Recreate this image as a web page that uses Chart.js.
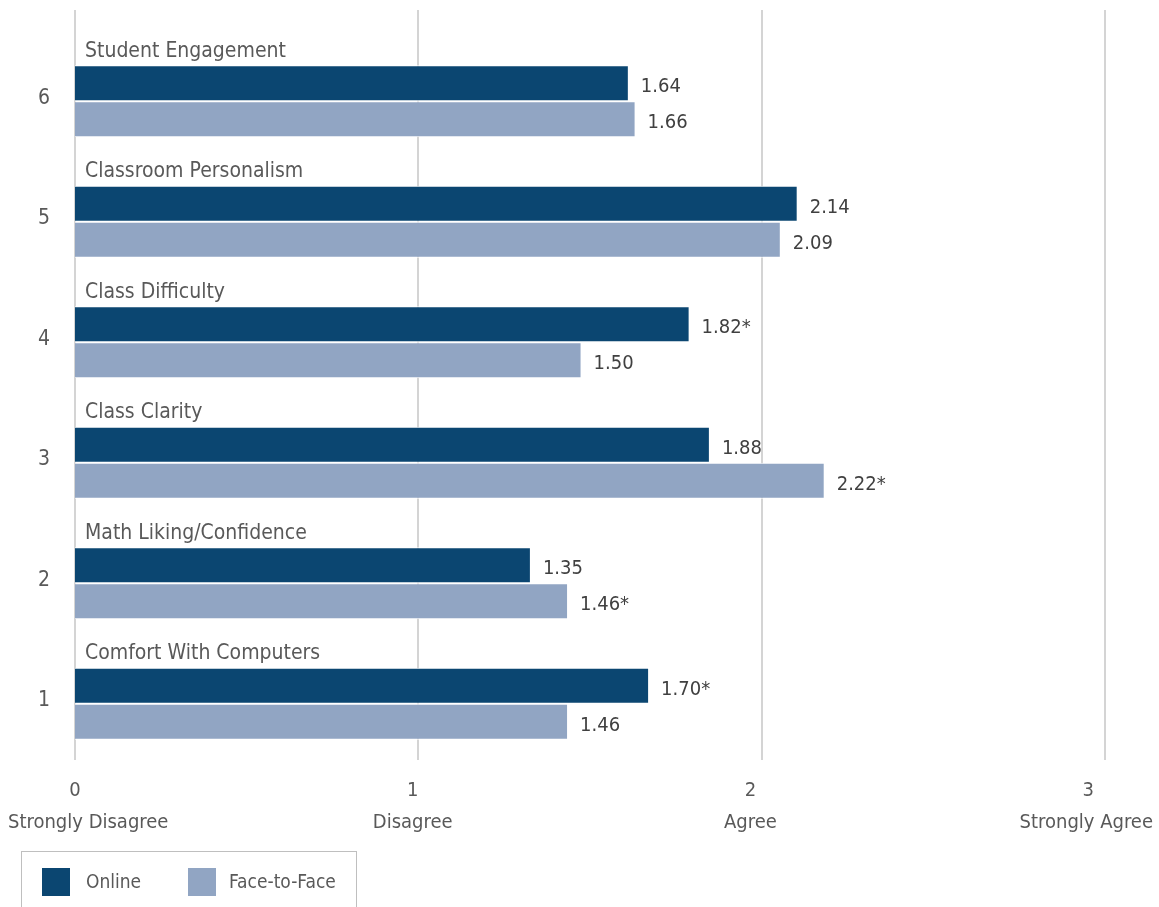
<!DOCTYPE html>
<html>
<head>
<meta charset="utf-8">
<script src="https://cdn.jsdelivr.net/npm/chart.js@4.4.1/dist/chart.umd.min.js"></script>
<style>
  html, body { margin: 0; padding: 0; background: #fff; }
  #wrap { width: 1159px; height: 907px; }
</style>
</head>
<body>
<div id="wrap"><canvas id="chart"></canvas></div>
<script>
// data
const ranks = ['6', '5', '4', '3', '2', '1'];
const categories = ['Student Engagement', 'Classroom Personalism', 'Class Difficulty',
  'Class Clarity', 'Math Liking/Confidence', 'Comfort With Computers'];
const online = [1.64, 2.14, 1.82, 1.88, 1.35, 1.70];
const faceToFace = [1.66, 2.09, 1.50, 2.22, 1.46, 1.46];
const onlineSig = ['', '', '*', '', '', '*'];
const faceSig = ['', '', '', '*', '*', ''];
const xTicks = [0, 1, 2, 3];
const xTickNames = ['Strongly Disagree', 'Disagree', 'Agree', 'Strongly Agree'];
const seriesNames = ['Online', 'Face-to-Face'];

const FONT = "'Liberation Sans Narrow', 'DejaVu Sans Condensed', 'Arial Narrow', sans-serif";
const DARK = '#0b4671';
const LIGHT = '#91a5c3';
const TXT = '#595959';

// grid lines (full height), category titles, value labels, x labels, legend
const extras = {
  id: 'extras',
  beforeDatasetsDraw(chart) {
    const ctx = chart.ctx, g = chart.scales.grid, area = chart.chartArea;
    ctx.save();
    ctx.strokeStyle = '#d4d4d4';
    ctx.lineWidth = 2;
    g.ticks.forEach(t => {
      const x = Math.round(g.getPixelForValue(t.value));
      ctx.beginPath();
      ctx.moveTo(x, 10);
      ctx.lineTo(x, area.bottom - 4);
      ctx.stroke();
    });
    ctx.restore();
  },
  afterDatasetsDraw(chart) {
    const ctx = chart.ctx, xs = chart.scales.x, area = chart.chartArea;
    const m0 = chart.getDatasetMeta(0), m1 = chart.getDatasetMeta(1);
    ctx.save();
    ctx.textBaseline = 'middle';

    // category titles above each pair
    ctx.font = '21px ' + FONT;
    ctx.fillStyle = TXT;
    ctx.textAlign = 'left';
    m0.data.forEach((bar, i) => {
      ctx.fillText(categories[i], area.left + 10, bar.y - bar.height / 2 - 14);
    });

    // value labels
    ctx.font = '20px ' + FONT;
    ctx.fillStyle = '#404040';
    [[m0, online, onlineSig], [m1, faceToFace, faceSig]].forEach(([meta, vals, sig]) => {
      meta.data.forEach((bar, i) => {
        ctx.fillText(vals[i].toFixed(2) + sig[i], bar.x + 12, bar.y + 4);
      });
    });

    // x tick labels (number + meaning)
    ctx.fillStyle = TXT;
    ctx.textAlign = 'center';
    const W = chart.width;
    xTicks.forEach((v, i) => {
      const px = xs.getPixelForValue(v);
      [[String(v), area.bottom + 27], [xTickNames[i], area.bottom + 59]].forEach(([s, y]) => {
        const w = ctx.measureText(s).width;
        const cx = Math.min(Math.max(px, 8 + w / 2), W - 6 - w / 2);
        ctx.fillText(s, cx, y);
      });
    });

    // legend
    ctx.strokeStyle = '#bfbfbf';
    ctx.lineWidth = 1;
    ctx.strokeRect(21.5, 851.5, 335, 70);
    ctx.font = '19px ' + FONT;
    ctx.textAlign = 'left';
    const items = [[42, 86], [188, 229]];
    chart.data.datasets.forEach((ds, i) => {
      ctx.fillStyle = ds.backgroundColor;
      ctx.fillRect(items[i][0], 868, 28, 28);
      ctx.fillStyle = TXT;
      ctx.fillText(ds.label, items[i][1], 883);
    });
    ctx.restore();
  }
};

new Chart(document.getElementById('chart'), {
  type: 'bar',
  data: {
    labels: ranks,
    datasets: [
      { label: seriesNames[0], data: online, backgroundColor: DARK },
      { label: seriesNames[1], data: faceToFace, backgroundColor: LIGHT }
    ]
  },
  options: {
    indexAxis: 'y',
    responsive: true,
    maintainAspectRatio: false,
    animation: false,
    layout: { padding: { top: 41, right: 54, bottom: 143, left: 0 } },
    datasets: {
      bar: {
        categoryPercentage: 0.597,
        barPercentage: 1,
        borderColor: '#ffffff',
        borderWidth: 1
      }
    },
    plugins: {
      legend: { display: false },
      tooltip: { enabled: false }
    },
    scales: {
      x: {
        type: 'linear', min: 0, max: 3.05, display: false
      },
      grid: {
        type: 'linear', axis: 'x', position: 'bottom', min: 0, max: 3, display: false,
        ticks: { stepSize: 1 }
      },
      y: {
        grid: { display: false, drawTicks: false },
        border: { display: false },
        ticks: { color: TXT, font: { family: FONT, size: 21 }, padding: 25, labelOffset: -3 },
        afterFit(s) { s.width = 75; }
      }
    }
  },
  plugins: [extras]
});
</script>
</body>
</html>
